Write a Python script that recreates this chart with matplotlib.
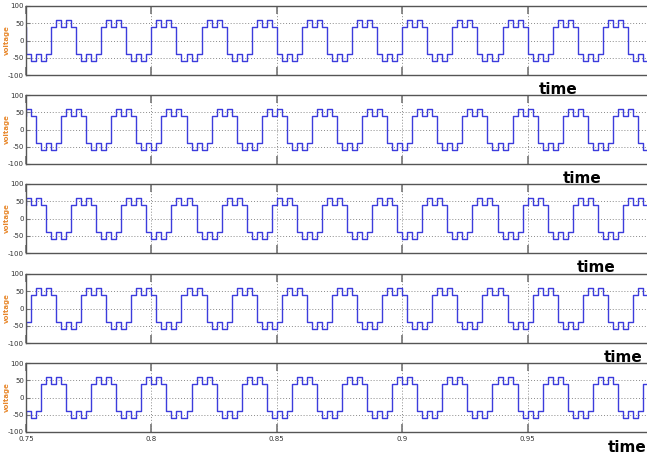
import matplotlib

matplotlib.use("Agg")
import matplotlib.pyplot as plt  # noqa: E402
import numpy as np

# one half cycle of the stepped output (levels), mirrored for the negative half
half_levels = [40, 60, 40, 60, 40]
step_dur = 0.002
period = 0.02
# time of the -40 -> +40 jump for each of the five phases
rise_times = [0.760, 0.764, 0.768, 0.772, 0.776]

x_ticks = [0.75, 0.8, 0.85, 0.9, 0.95]
x_tick_labels = ["0.75", "0.8", "0.85", "0.9", "0.95"]
y_ticks = [-100, -50, 0, 50, 100]
time_label_x = [558, 582, 596, 623, 627]  # pixels
time_label_y = [90, 179, 268, 357, 447]

W, H = 647, 455
axes_tops = [6, 95, 184, 274, 363]
axes_h = 69
left_px, right_px = 26, 653


def stepped_wave(rise):
    cycle = np.array(half_levels + [-v for v in half_levels], dtype=float)
    start = rise - 2 * period
    n = int(np.ceil((1.0 - start) / step_dur)) + 2
    t = start + step_dur * np.arange(n)
    v = np.resize(cycle, n)
    return t, v


fig = plt.figure(figsize=(W / 100, H / 100), dpi=100)

for i, rise in enumerate(rise_times):
    ax = fig.add_axes([left_px / W, 1 - (axes_tops[i] + axes_h) / H,
                       (right_px - left_px) / W, axes_h / H])
    t, v = stepped_wave(rise)
    ax.step(t, v, where="post", color="#3c3cdc", lw=1.0)
    ax.set_xlim(0.75, 1.0)
    ax.set_ylim(-100, 100)
    ax.set_xticks(x_ticks)
    ax.set_yticks(y_ticks)
    ax.set_yticklabels([str(y) for y in y_ticks])
    if i == len(rise_times) - 1:
        ax.set_xticklabels(x_tick_labels)
    else:
        ax.set_xticklabels([])
    ax.grid(True, linestyle=(0, (1, 2)), color="#8a8a8a", lw=0.7)
    ax.tick_params(axis="x", direction="in", length=6, width=1.2, color="#777777",
                   top=True, labelsize=5, labelcolor="#333333", pad=3)
    ax.tick_params(axis="y", direction="in", length=3, width=0.8, color="#777777",
                   labelsize=5, labelcolor="#333333", pad=1.5)
    for s in ax.spines.values():
        s.set_color("#555555")
        s.set_linewidth(1.0)
    # y label placed by hand so it sits right against the tick labels
    fig.text(7 / W, 1 - (axes_tops[i] + axes_h / 2) / H, "voltage",
             color="#e8892e", fontsize=5, fontweight="bold", rotation=90,
             ha="center", va="center")
    fig.text(time_label_x[i] / W, 1 - time_label_y[i] / H, "time",
             fontsize=11, fontweight="bold", ha="center", va="center")

fig.savefig("out.png", dpi=100, facecolor="white")
